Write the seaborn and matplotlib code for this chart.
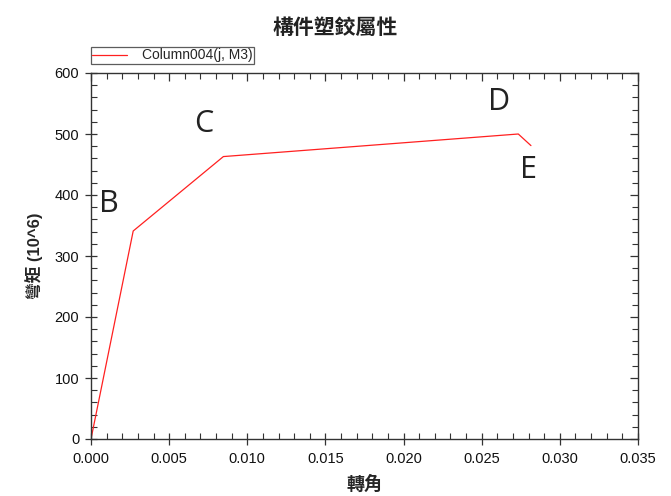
import matplotlib
matplotlib.use("Agg")
import matplotlib.pyplot as plt
import seaborn as sns
import pandas as pd
from matplotlib.ticker import MultipleLocator

# data
rotation = [0.0, 0.0027, 0.00847, 0.02734, 0.02815]
moment = [0.0, 341.0, 463.0, 500.0, 481.0]
point_labels = ["B", "C", "D", "E"]
label_x = [0.00115, 0.0072, 0.0261, 0.0280]
label_y = [385, 516, 552, 441]
series_name = "Column004(j, M3)"
title = "構件塑鉸屬性"
xlabel = "轉角"
ylabel = "彎矩 (10^6)"

sns.set_style("ticks")
plt.rcParams['font.family'] = ['Liberation Sans', 'Noto Sans CJK TC', 'DejaVu Sans']

df = pd.DataFrame({"rotation": rotation, "moment": moment})

fig = plt.figure(figsize=(6.71, 4.96), dpi=100)
ax = fig.add_axes([91/671, 57/496, (638-91)/671, (439-73)/496])

sns.lineplot(data=df, x="rotation", y="moment", ax=ax, color="#ff2020",
             linewidth=0.9, sort=False, label=series_name, legend=True)

ax.set_xlim(0, 0.035)
ax.set_ylim(0, 600)
ax.xaxis.set_major_locator(MultipleLocator(0.005))
ax.xaxis.set_minor_locator(MultipleLocator(0.001))
ax.yaxis.set_major_locator(MultipleLocator(100))
ax.yaxis.set_minor_locator(MultipleLocator(20))
ax.xaxis.set_major_formatter(matplotlib.ticker.FormatStrFormatter('%.3f'))

for s in ax.spines.values():
    s.set_visible(True)
    s.set_color('#333333')
    s.set_linewidth(1.0)

ax.tick_params(which='major', direction='inout', length=9, width=0.9, color='#333333',
               top=False, right=False, labelsize=10.5, labelcolor='#111111')
ax.tick_params(which='minor', direction='in', length=4, width=0.8, color='#333333',
               top=False, right=False)
ax.tick_params(axis='x', which='major', pad=5)
ax.tick_params(axis='y', which='major', pad=4)

# top / right inward ticks
secx = ax.secondary_xaxis('top')
secx.xaxis.set_major_locator(MultipleLocator(0.005))
secx.xaxis.set_minor_locator(MultipleLocator(0.001))
secx.tick_params(which='major', direction='in', length=6, width=0.9, color='#333333', labeltop=False)
secx.tick_params(which='minor', direction='in', length=4, width=0.8, color='#333333')
secx.spines['top'].set_visible(False)
secy = ax.secondary_yaxis('right')
secy.yaxis.set_major_locator(MultipleLocator(100))
secy.yaxis.set_minor_locator(MultipleLocator(20))
secy.tick_params(which='major', direction='in', length=6, width=0.9, color='#333333', labelright=False)
secy.tick_params(which='minor', direction='in', length=4, width=0.8, color='#333333')
secy.spines['right'].set_visible(False)

ax.set_xlabel(xlabel, fontsize=13, fontweight='bold', family=['Noto Sans CJK TC'], labelpad=6)
ax.set_ylabel(ylabel, fontsize=12, fontweight='bold', family=['Liberation Sans', 'Noto Sans CJK TC'], labelpad=8)

fig.text(0.5, 1 - 27/496, title, ha='center', va='center', fontsize=15,
         fontweight='bold', family=['Noto Sans CJK TC'], color='#222222')

for lab, lx, ly in zip(point_labels, label_x, label_y):
    ax.text(lx, ly, lab, ha='center', va='center', fontsize=22, color='#222222',
            family=['Open Sans'])

leg = ax.legend(loc='lower left', bbox_to_anchor=(0.0, 1.025), frameon=True, fancybox=False,
                fontsize=10, borderpad=0.1, handlelength=2.5, handletextpad=1.1,
                borderaxespad=0)
leg.get_frame().set_edgecolor('#333333')
leg.get_frame().set_linewidth(0.9)

fig.savefig("out.png", dpi=100)
